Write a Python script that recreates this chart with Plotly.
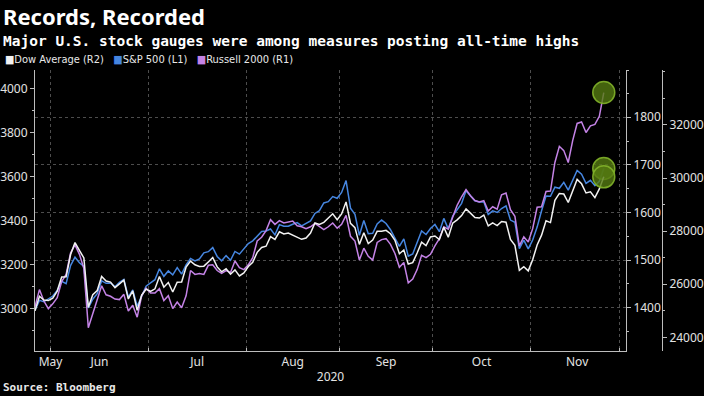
import plotly.graph_objects as go
import pandas as pd

# ---------------- data ----------------
holidays = ["2020-07-03", "2020-09-07", "2020-11-26"]
dates = pd.bdate_range("2020-05-26", "2020-11-24", freq="C", holidays=holidays)

sp500 = [
    2991.77, 3036.13, 3029.73, 3044.31,
    3055.73, 3080.82, 3122.87, 3112.35, 3193.93, 3232.39, 3207.18, 3190.14, 3002.10, 3041.31, 3066.59,
    3124.74, 3113.49, 3115.34, 3097.74, 3117.86, 3131.29, 3050.33, 3083.76, 3009.05, 3053.24, 3100.29,
    3115.86, 3130.01, 3179.72, 3145.32, 3169.94, 3152.05, 3185.04, 3155.22, 3197.52, 3226.56, 3215.57,
    3224.73, 3251.84, 3257.30, 3276.02, 3235.66, 3215.63, 3239.41, 3218.44, 3258.44, 3246.22, 3271.12,
    3294.61, 3306.51, 3327.77, 3349.16, 3351.28, 3360.47, 3333.69, 3380.35, 3373.43, 3372.85, 3381.99,
    3389.78, 3374.85, 3385.51, 3397.16, 3431.28, 3443.62, 3478.73, 3484.55, 3508.01, 3500.31,
    3526.65, 3580.84, 3455.06, 3426.96, 3331.84, 3398.96, 3339.19, 3340.97, 3383.54, 3401.20, 3385.49,
    3357.01, 3319.47, 3281.06, 3315.57, 3236.92, 3246.59, 3298.46, 3351.60, 3335.47, 3363.00,
    3380.80, 3348.42, 3408.60, 3360.97, 3419.44, 3446.83, 3477.14, 3534.22, 3511.93, 3488.67, 3483.34,
    3483.81, 3426.92, 3443.12, 3435.56, 3453.49, 3465.39, 3400.97, 3390.68, 3271.03, 3310.11, 3269.96,
    3310.24, 3369.16, 3443.44, 3510.45, 3509.44, 3550.50, 3545.53, 3572.66, 3537.01, 3585.15, 3626.91,
    3609.53, 3567.79, 3581.87, 3557.54, 3577.59, 3635.41,
]

dow = [
    24995, 25548, 25401, 25383,
    25475, 25742, 26270, 26281, 27111, 27572, 27272, 26990, 25128, 25606, 25763,
    26290, 26120, 26080, 25871, 26025, 26156, 25445, 25746, 25016, 25595, 25813,
    25734, 25827, 26287, 25890, 26067, 25706, 26075, 26086, 26643, 26870, 26735,
    26672, 26681, 26840, 27005, 26652, 26470, 26585, 26379, 26540, 26314, 26428,
    26665, 26828, 27202, 27387, 27433, 27791, 27687, 27976, 27897, 27931, 27845,
    27778, 27692, 27740, 27930, 28308, 28249, 28332, 28492, 28654, 28430,
    28646, 29100, 28292, 28133, 27501, 27940, 27535, 27666, 27993, 27995, 28032,
    27902, 27657, 27148, 27288, 26763, 26815, 27174, 27584, 27452, 27782,
    27817, 27683, 28149, 27773, 28303, 28426, 28587, 28838, 28680, 28514, 28494,
    28606, 28195, 28309, 28211, 28364, 28336, 27685, 27463, 26520, 26660, 26502,
    26925, 27481, 27848, 28390, 28323, 29158, 29421, 29398, 29080, 29480, 29950,
    29784, 29438, 29483, 29263, 29592, 30046,
]

russell = [
    1402, 1438, 1414, 1398,
    1408, 1421, 1455, 1470, 1515, 1532, 1512, 1482, 1358, 1388, 1418,
    1446, 1427, 1424, 1418, 1417, 1428, 1393, 1405, 1380, 1425, 1441,
    1431, 1431, 1440, 1415, 1425, 1398, 1412, 1400, 1425, 1478, 1470,
    1472, 1470, 1489, 1490, 1478, 1472, 1478, 1474, 1498, 1484, 1480,
    1490, 1505, 1540, 1548, 1562, 1585, 1575, 1583, 1578, 1580, 1582,
    1572, 1570, 1566, 1570, 1577, 1570, 1564, 1570, 1578, 1567,
    1575, 1594, 1550, 1540, 1500, 1525, 1508, 1500, 1537, 1543, 1545,
    1533, 1514, 1485, 1495, 1452, 1460, 1480, 1510, 1505, 1512,
    1530, 1545, 1570, 1565, 1590, 1615, 1633, 1648, 1635, 1625, 1622,
    1625, 1603, 1612, 1607, 1637, 1641, 1606, 1592, 1530, 1549, 1538,
    1566, 1611, 1612, 1644, 1645, 1705, 1739, 1730, 1705, 1751, 1787,
    1790, 1768, 1782, 1785, 1802, 1852,
]

month_labels = ["May", "Jun", "Jul", "Aug", "Sep", "Oct", "Nov"]
month_label_dates = ["2020-05-29 12:00", "2020-06-15 12:00", "2020-07-16 12:00", "2020-08-17",
                     "2020-09-16", "2020-10-15 12:00", "2020-11-16"]
month_bounds = ["2020-05-29 12:00", "2020-06-30 12:00", "2020-07-31 12:00", "2020-08-31 12:00",
                "2020-09-30 12:00", "2020-10-30 12:00", "2020-11-30 12:00"]

left_ticks = [3000, 3200, 3400, 3600, 3800, 4000]
left_minor = [2900, 3100, 3300, 3500, 3700, 3900]
r1_ticks = [1400, 1500, 1600, 1700, 1800]
r1_minor = [1350, 1450, 1550, 1650, 1750, 1850, 1899]
r2_ticks = [24000, 26000, 28000, 30000, 32000]
r2_minor = [25000, 27000, 29000, 31000, 33000, 34000]

names = ["Dow Average (R2)", "S&P 500 (L1)", "Russell 2000 (R1)"]
colors = ["#f2f2f2", "#4686e0", "#c483e6"]

# ---------------- figure ----------------
fig = go.Figure()
fig.add_trace(go.Scatter(x=dates, y=sp500, mode="lines", yaxis="y",
                         line=dict(color=colors[1], width=1.5), name=names[1]))
fig.add_trace(go.Scatter(x=dates, y=russell, mode="lines", yaxis="y2",
                         line=dict(color=colors[2], width=1.5), name=names[2]))
fig.add_trace(go.Scatter(x=dates, y=dow, mode="lines", yaxis="y3",
                         line=dict(color=colors[0], width=1.5), name=names[0]))

circle = dict(size=22, color="rgba(85,122,18,0.8)", line=dict(color="rgba(130,178,42,0.9)", width=1.5))
fig.add_trace(go.Scatter(x=[dates[-1]], y=[sp500[-1]], mode="markers", yaxis="y", marker=circle))
fig.add_trace(go.Scatter(x=[dates[-1]], y=[russell[-1]], mode="markers", yaxis="y2", marker=circle))
fig.add_trace(go.Scatter(x=[dates[-1]], y=[dow[-1]], mode="markers", yaxis="y3", marker=circle))

axis_col = "#bdbdbd"
tick_font = dict(family="Noto Sans", size=12, color="#e3e3e3")
grid_col = "#4d4d4d"

fig.update_layout(
    width=704, height=396,
    paper_bgcolor="black", plot_bgcolor="black",
    margin=dict(l=35, r=42, t=70, b=45, autoexpand=False),
    showlegend=False,
    hovermode=False,
    xaxis=dict(
        domain=[0, 591 / 627], automargin=False,
        type="date",
        range=["2020-05-26", "2020-12-02"],
        rangebreaks=[dict(bounds=["sat", "mon"]), dict(values=holidays)],
        tickmode="array", tickvals=month_label_dates, ticktext=month_labels,
        ticks="", showgrid=False, zeroline=False,
        showline=True, linecolor=axis_col, linewidth=1,
        tickfont=tick_font,
        minor=dict(tickmode="array", tickvals=month_bounds, ticks="inside", ticklen=3,
                   tickcolor=axis_col, showgrid=True, gridcolor=grid_col, griddash="dot", gridwidth=1),
        title=dict(text="2020", font=tick_font, standoff=3),
    ),
    yaxis=dict(
        automargin=False,
        range=[2805.9, 4083.2], tickmode="array", tickvals=left_ticks, tickformat="d",
        ticks="outside", ticklen=4, tickcolor=axis_col,
        showline=True, linecolor=axis_col, linewidth=1,
        showgrid=False, zeroline=False, tickfont=tick_font,
        minor=dict(tickmode="array", tickvals=left_minor, ticks="outside", ticklen=2, tickcolor=axis_col),
    ),
    yaxis2=dict(
        automargin=False,
        overlaying="y", side="right", anchor="x",
        range=[1309, 1899.3], tickmode="array", tickvals=r1_ticks, tickformat="d",
        ticks="outside", ticklen=4, tickcolor=axis_col,
        showline=True, linecolor=axis_col, linewidth=1,
        showgrid=True, gridcolor=grid_col, griddash="dot", gridwidth=1,
        zeroline=False, tickfont=tick_font,
        minor=dict(tickmode="array", tickvals=r1_minor, ticks="outside", ticklen=2, tickcolor=axis_col,
                   showgrid=False),
    ),
    yaxis3=dict(
        automargin=False,
        overlaying="y", side="right", anchor="free", position=1.0,
        range=[23484, 34072], tickmode="array", tickvals=r2_ticks, tickformat="d",
        ticks="outside", ticklen=4, tickcolor=axis_col,
        showline=True, linecolor=axis_col, linewidth=1,
        showgrid=False, zeroline=False, tickfont=tick_font,
        minor=dict(tickmode="array", tickvals=r2_minor, ticks="outside", ticklen=2, tickcolor=axis_col),
    ),
)

def py(pix):
    return (351 - pix) / 281

def px(pix):
    return (pix - 35) / 627

fig.add_annotation(text="<b>Records, Recorded</b>", xref="paper", yref="paper",
                   x=px(1), y=py(16), xanchor="left", yanchor="middle", showarrow=False,
                   font=dict(family="Noto Sans", size=22, color="white"))
fig.add_annotation(text="<b>Major U.S. stock gauges were among measures posting all-time highs</b>",
                   xref="paper", yref="paper", x=px(1), y=py(41), xanchor="left", yanchor="middle",
                   showarrow=False, font=dict(family="DejaVu Sans Mono", size=14.5, color="white"))

legend_font = "Liberation Sans Narrow, DejaVu Sans Condensed, Arial Narrow, sans-serif"
legend_text = "&nbsp;&nbsp;&nbsp;".join(
    f"<span style='color:{c}'>■</span><span style='color:#e8e8e8'>{n}</span>"
    for c, n in zip(colors, names)
)
fig.add_annotation(text=legend_text, xref="paper", yref="paper",
                   x=px(3), y=py(59), xanchor="left", yanchor="middle", showarrow=False,
                   font=dict(family=legend_font, size=11, color="#e8e8e8"))
fig.add_annotation(text="<b>Source: Bloomberg</b>", xref="paper", yref="paper",
                   x=px(1), y=py(387), xanchor="left", yanchor="middle", showarrow=False,
                   font=dict(family="DejaVu Sans Mono", size=11, color="#e8e8e8"))

fig.write_html("out.html", config={"displayModeBar": False},
               post_script="document.body.style.margin='0px';")
